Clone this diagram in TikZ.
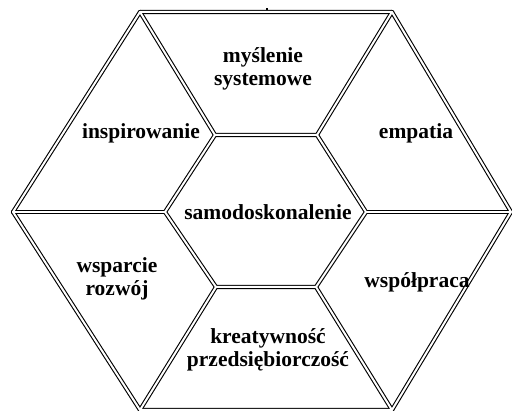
\documentclass[tikz,border=0pt]{standalone}
\usepackage{fontspec}
\setmainfont{Liberation Serif}
\begin{document}
\begin{tikzpicture}[x=1pt,y=-1pt,
  edgeout/.style={line width=4.2pt,black,line cap=round,line join=round},
  edgein/.style={line width=2.0pt,white,line cap=round,line join=round},
  lbl/.style={font=\bfseries\fontsize{21.5}{23}\selectfont,align=center,inner sep=0pt}]
\useasboundingbox (0,0) rectangle (512,411);
% outer hexagon corners
\coordinate (A1) at (140,12);
\coordinate (A2) at (392,12);
\coordinate (A3) at (511,212);
\coordinate (A4) at (392,410);
\coordinate (A5) at (140,410);
\coordinate (A6) at (13,212);
% inner hexagon corners
\coordinate (B1) at (215,135);
\coordinate (B2) at (317,135);
\coordinate (B3) at (366,212);
\coordinate (B4) at (316,287);
\coordinate (B5) at (216,287);
\coordinate (B6) at (165,212);
% double rules: black body first, white core on top
\foreach \s in {edgeout,edgein}{
  \draw[\s] (A1) -- (A2) -- (A3) -- (A4) -- (A5) -- (A6) -- cycle;
  \draw[\s] (B1) -- (B2) -- (B3) -- (B4) -- (B5) -- (B6) -- cycle;
  \draw[\s] (A1) -- (B1);
  \draw[\s] (A2) -- (B2);
  \draw[\s] (A3) -- (B3);
  \draw[\s] (A4) -- (B4);
  \draw[\s] (A5) -- (B5);
  \draw[\s] (A6) -- (B6);
}
\fill (266,8) rectangle (268,10);
% labels
\node[lbl] (ms) at (263,69) {myślenie\\systemowe};
\node[lbl] (in) at (141,133) {inspirowanie};
\node[lbl] (em) at (416,133) {empatia};
\node[lbl] (sa) at (268,212) {samodoskonalenie};
\node[lbl] (wr) at (117,279) {wsparcie\\rozwój};
\node[lbl] (wp) at (417,282) {współpraca};
\node[lbl] (kp) at (268,350) {kreatywność\\przedsiębiorczość};
\end{tikzpicture}
\end{document}
